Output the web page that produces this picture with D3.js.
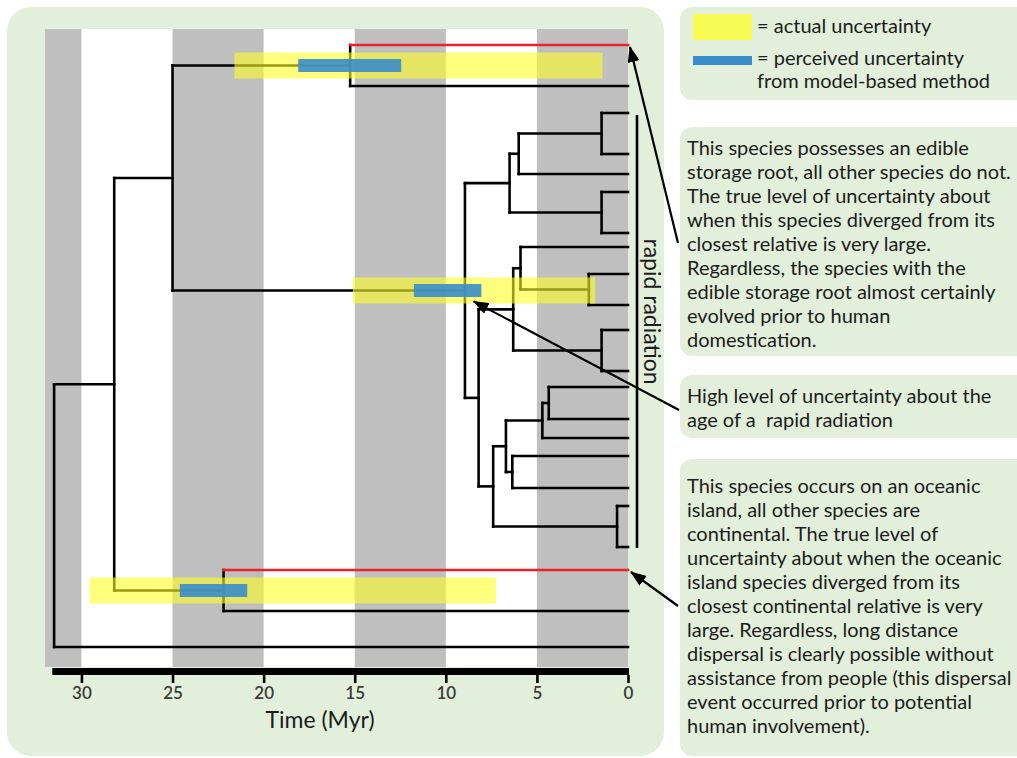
<!DOCTYPE html>
<html>
<head>
<meta charset="utf-8">
<title>Uncertainty in divergence times</title>
<script src="https://d3js.org/d3.v7.min.js"></script>
<style>
  body { margin: 0; background: #fff; }
  svg { display: block; font-family: Lato, "Open Sans", sans-serif; }
  .note { font-size: 20px; fill: #1c1c1c; white-space: pre; }
  .x-axis .tick text { font-size: 17px; font-weight: 600; fill: #3a3a3a; }
</style>
</head>
<body>
<svg width="1017" height="758"></svg>
<script>
// time axis (Myr before present)
var timeTicks = [30, 25, 20, 15, 10, 5, 0];
var grayBands = [[32, 30], [25, 20], [15, 10], [5, 0]];

// tree: node ages in Myr, tips get a row (vertical position)
var treeNodes = [
  {id: "root", parent: null, age: 31.5},
  {id: "n1", parent: "root", age: 28.2},
  {id: "t21", parent: "root", age: 0, row: 30.9},
  {id: "n2", parent: "n1", age: 25.0},
  {id: "n3", parent: "n1", age: 22.2},
  {id: "t19", parent: "n3", age: 0, row: 27.05},
  {id: "t20", parent: "n3", age: 0, row: 29.1},
  {id: "n4", parent: "n2", age: 15.25},
  {id: "t0", parent: "n4", age: 0, row: 0.8},
  {id: "t1", parent: "n4", age: 0, row: 2.85},
  {id: "n5", parent: "n2", age: 8.95},
  {id: "n6", parent: "n5", age: 6.5},
  {id: "n7", parent: "n6", age: 6.0},
  {id: "n8", parent: "n7", age: 1.45},
  {id: "t2", parent: "n8", age: 0, row: 4.2},
  {id: "t3", parent: "n8", age: 0, row: 6.25},
  {id: "t4", parent: "n7", age: 0, row: 7.25},
  {id: "n9", parent: "n6", age: 1.45},
  {id: "t5", parent: "n9", age: 0, row: 8.15},
  {id: "t6", parent: "n9", age: 0, row: 10.2},
  {id: "n10", parent: "n5", age: 8.2},
  {id: "n11", parent: "n10", age: 6.3},
  {id: "n12", parent: "n11", age: 5.9},
  {id: "t7", parent: "n12", age: 0, row: 10.9},
  {id: "n13", parent: "n12", age: 2.15},
  {id: "t8", parent: "n13", age: 0, row: 12.25},
  {id: "t9", parent: "n13", age: 0, row: 13.8},
  {id: "n14", parent: "n11", age: 1.45},
  {id: "t10", parent: "n14", age: 0, row: 15.05},
  {id: "t11", parent: "n14", age: 0, row: 17.1},
  {id: "n15", parent: "n10", age: 7.4},
  {id: "n16", parent: "n15", age: 6.7},
  {id: "n17", parent: "n16", age: 4.7},
  {id: "n18", parent: "n17", age: 4.35},
  {id: "t12", parent: "n18", age: 0, row: 17.9},
  {id: "t13", parent: "n18", age: 0, row: 19.5},
  {id: "t14", parent: "n17", age: 0, row: 20.45},
  {id: "n19", parent: "n16", age: 6.35},
  {id: "t15", parent: "n19", age: 0, row: 21.35},
  {id: "t16", parent: "n19", age: 0, row: 22.95},
  {id: "n20", parent: "n15", age: 0.6},
  {id: "t17", parent: "n20", age: 0, row: 23.85},
  {id: "t18", parent: "n20", age: 0, row: 25.9}
];
var redTips = ["t0", "t19"];
var radiationTips = ["t2", "t18"];

// uncertainty intervals on node ages (Myr)
var actualUncertainty = [
  {node: "n4", from: 21.6, to: 1.4},
  {node: "n5", from: 15.1, to: 1.8},
  {node: "n3", from: 29.55, to: 7.25}
];
var perceivedUncertainty = [
  {node: "n4", from: 18.1, to: 12.45},
  {node: "n5", from: 11.75, to: 8.05},
  {node: "n3", from: 24.6, to: 20.9}
];

var legendLabels = [["= actual uncertainty"], ["= perceived uncertainty", "from model-based method"]];
var notes = [
  ["This species possesses an edible", "storage root, all other species do not.",
   "The true level of uncertainty about", "when this species diverged from its",
   "closest relative is very large.", "Regardless, the species with the",
   "edible storage root almost certainly", "evolved prior to human", "domestication."],
  ["High level of uncertainty about the", "age of a  rapid radiation"],
  ["This species occurs on an oceanic", "island, all other species are",
   "continental. The true level of", "uncertainty about when the oceanic",
   "island species diverged from its", "closest continental relative is very",
   "large. Regardless, long distance", "dispersal is clearly possible without",
   "assistance from people (this dispersal", "event occurred prior to potential",
   "human involvement)."]
];

var svg = d3.select("svg");
var green = "#e2efda", gray = "#bfbfbf", yellow = "#ffff26", blue = "#3a8dc8", red = "#e8232a";

var x = d3.scaleLinear().domain([32, 0]).range([45, 628]);
var y = d3.scaleLinear().domain([0, 32]).range([29, 669]);

// build tree
var root = d3.stratify().id(d => d.id).parentId(d => d.parent)(treeNodes);
root.eachAfter(function(n) {
  n.py = n.children ? d3.mean(n.children, c => c.py) : y(n.data.row);
  n.px = x(n.data.age);
});
var byId = {};
root.each(n => byId[n.id] = n);

// panels
svg.append("rect").attr("x", 7).attr("y", 7).attr("width", 657).attr("height", 749)
  .attr("rx", 24).attr("fill", green);

var plot = svg.append("g");
plot.append("rect").attr("x", x(32)).attr("y", 29).attr("width", x(0) - x(32)).attr("height", 638)
  .attr("fill", "#fff");
plot.selectAll(".band").data(grayBands).enter().append("rect")
  .attr("x", d => x(d[0])).attr("width", d => x(d[1]) - x(d[0]))
  .attr("y", 29).attr("height", 638).attr("fill", gray);

// tree branches
var tree = plot.append("g").attr("fill", "none").attr("stroke-width", 2.6).attr("stroke-linecap", "square");
tree.selectAll(".v").data(root.descendants().filter(n => n.children)).enter().append("line")
  .attr("x1", d => d.px).attr("x2", d => d.px)
  .attr("y1", d => d3.min(d.children, c => c.py)).attr("y2", d => d3.max(d.children, c => c.py))
  .attr("stroke", "#000");
tree.selectAll(".h").data(root.descendants().filter(n => n.parent)).enter().append("line")
  .attr("x1", d => d.parent.px).attr("x2", d => d.px)
  .attr("y1", d => d.py).attr("y2", d => d.py)
  .attr("stroke", d => redTips.indexOf(d.id) >= 0 ? red : "#000");

// uncertainty bars
plot.selectAll(".actual").data(actualUncertainty).enter().append("rect")
  .attr("x", d => x(d.from)).attr("width", d => x(d.to) - x(d.from))
  .attr("y", d => byId[d.node].py - 13).attr("height", 26)
  .attr("fill", yellow).attr("fill-opacity", 0.6);
plot.selectAll(".perceived").data(perceivedUncertainty).enter().append("rect")
  .attr("x", d => x(d.from)).attr("width", d => x(d.to) - x(d.from))
  .attr("y", d => byId[d.node].py - 6.5).attr("height", 13)
  .attr("fill", blue).attr("fill-opacity", 0.9);

// axis
plot.append("line").attr("x1", x(31.6)).attr("x2", x(0) + 1).attr("y1", 671.5).attr("y2", 671.5)
  .attr("stroke", "#000").attr("stroke-width", 7);
var axis = plot.append("g").attr("class", "x-axis").attr("transform", "translate(0,675)")
  .call(d3.axisBottom(x).tickValues(timeTicks).tickSize(8).tickSizeOuter(0).tickPadding(4));
axis.select(".domain").remove();
axis.selectAll(".tick line").attr("stroke", "#000").attr("stroke-width", 2.6);
axis.selectAll(".tick text").attr("font-family", "Lato, sans-serif");
plot.append("text").attr("x", 320).attr("y", 719).attr("dominant-baseline", "central")
  .attr("text-anchor", "middle").attr("font-size", 23).attr("fill", "#1c1c1c").text("Time (Myr)");

// rapid radiation bracket
var radTop = byId[radiationTips[0]].py + 2, radBottom = byId[radiationTips[1]].py + 1;
svg.append("line").attr("x1", 637).attr("x2", 637).attr("y1", radTop).attr("y2", radBottom)
  .attr("stroke", "#000").attr("stroke-width", 2.6);
svg.append("text").attr("transform", "translate(653," + ((radTop + radBottom) / 2 - 20) + ") rotate(90)")
  .attr("text-anchor", "middle").attr("dominant-baseline", "central")
  .attr("font-size", 23).attr("fill", "#1c1c1c").text("rapid radiation");

// side boxes
var boxes = [
  {y: 7, h: 93}, {y: 127, h: 229}, {y: 375, h: 63}, {y: 459, h: 297}
];
svg.selectAll(".box").data(boxes).enter().append("rect")
  .attr("x", 680).attr("y", d => d.y).attr("width", 350).attr("height", d => d.h)
  .attr("rx", 12).attr("fill", green);

// legend
svg.append("rect").attr("x", 693).attr("y", 14).attr("width", 59).attr("height", 26)
  .attr("fill", yellow).attr("fill-opacity", 0.75);
svg.append("rect").attr("x", 693).attr("y", 56).attr("width", 59).attr("height", 9)
  .attr("fill", blue);
var legendY = [[25], [57, 80]];
legendLabels.forEach(function(lines, i) {
  lines.forEach(function(t, j) {
    svg.append("text").attr("class", "note").attr("x", 757).attr("y", legendY[i][j])
      .attr("dominant-baseline", "central").text(t);
  });
});

var noteStart = [147, 395, 485];
notes.forEach(function(lines, i) {
  svg.append("g").selectAll("text").data(lines).enter().append("text")
    .attr("class", "note").attr("x", 687).attr("y", (d, j) => noteStart[i] + j * 24)
    .attr("dominant-baseline", "central").text(d => d);
});

// arrows
var defs = svg.append("defs");
defs.append("marker").attr("id", "head").attr("markerUnits", "userSpaceOnUse")
  .attr("markerWidth", 16).attr("markerHeight", 12).attr("refX", 15).attr("refY", 6)
  .attr("orient", "auto")
  .append("path").attr("d", "M0,0 L16,6 L0,12 Z").attr("fill", "#000");

var arrows = [
  {x1: 678, y1: 243, x2: x(0) + 2, y2: byId["t0"].py + 2},
  {x1: 679, y1: 410, x2: byId["n10"].px - 5, y2: byId["n11"].py - 8},
  {x1: 678, y1: 606, x2: x(0) + 3, y2: byId["t19"].py + 2}
];
svg.selectAll(".arrow").data(arrows).enter().append("line")
  .attr("x1", d => d.x1).attr("y1", d => d.y1).attr("x2", d => d.x2).attr("y2", d => d.y2)
  .attr("stroke", "#000").attr("stroke-width", 2.2).attr("marker-end", "url(#head)");
</script>
</body>
</html>
